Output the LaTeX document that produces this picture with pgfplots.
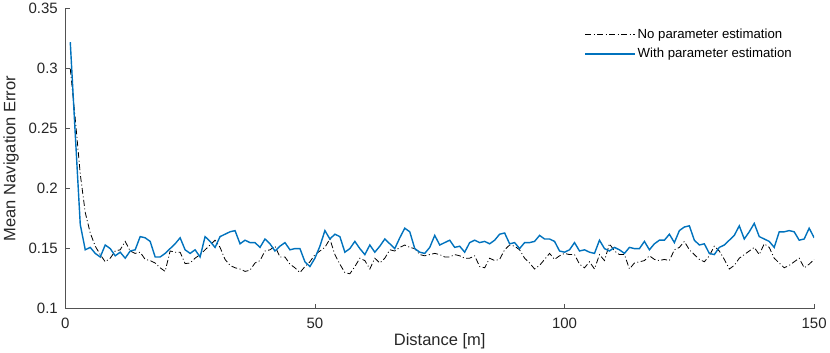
\documentclass[border=0pt]{standalone}
\usepackage{pgfplots}
\pgfplotsset{compat=1.18}
\usepackage{fontspec}
\setmainfont{Liberation Sans}
\definecolor{mblue}{rgb}{0,0.447,0.741}
\definecolor{axgray}{rgb}{0.15,0.15,0.15}

\begin{document}
\begin{tikzpicture}
\begin{axis}[
    scale only axis,
    width=749pt, height=300pt,
    xmin=0, xmax=150, ymin=0.1, ymax=0.35,
    xtick={0,50,100,150},
    ytick={0.1,0.15,0.2,0.25,0.3,0.35},
    yticklabels={0.1,0.15,0.2,0.25,0.3,0.35},
    axis x line*=bottom, axis y line*=left,
    axis line style={draw=axgray!80, line width=0.7pt},
    tick style={draw=axgray!80, line width=0.7pt},
    tick align=inside, major tick length=5pt,
    tick label style={font=\fontsize{15}{17}\selectfont, text=axgray},
    xticklabel style={yshift=-6pt},
    yticklabel style={xshift=-4pt},
    /pgf/number format/assume math mode=true,
    xlabel={Distance [m]}, ylabel={Mean Navigation Error},
    label style={font=\fontsize{16.5}{18}\selectfont, text=axgray},
    xlabel style={yshift=2pt}, ylabel style={yshift=3pt},
    legend style={draw=none, fill=none, at={(0.977,0.945)}, anchor=north east,
        font=\fontsize{13.2}{15}\selectfont, row sep=4pt,
        /tikz/every even column/.append style={column sep=2pt}},
    legend cell align=left,
    legend image code/.code={\draw (0pt,0pt) -- (50pt,0pt);},
]
\addplot[black, line width=0.8pt, dash pattern=on 6pt off 2.5pt on 1pt off 2.5pt] coordinates {
(1,0.300) (2,0.258) (3,0.212) (4,0.180) (5,0.163) (6,0.152) (7,0.145) (8,0.139) (9,0.142) (10,0.148)
(11,0.149) (12,0.156) (13,0.148) (14,0.146) (15,0.147) (16,0.141) (17,0.140) (18,0.138) (19,0.134) (20,0.131)
(21,0.148) (22,0.147) (23,0.147) (24,0.1375) (25,0.138) (26,0.142) (27,0.145) (28,0.149) (29,0.153) (30,0.157)
(31,0.151) (32,0.141) (33,0.136) (34,0.134) (35,0.133) (36,0.131) (37,0.132) (38,0.138) (39,0.140) (40,0.148)
(41,0.149) (42,0.152) (43,0.143) (44,0.143) (45,0.137) (46,0.134) (47,0.130) (48,0.135) (49,0.139) (50,0.145)
(51,0.148) (52,0.151) (53,0.158) (54,0.145) (55,0.137) (56,0.130) (57,0.129) (58,0.135) (59,0.142) (60,0.140)
(61,0.133) (62,0.142) (63,0.138) (64,0.142) (65,0.149) (66,0.148) (67,0.151) (68,0.153) (69,0.151) (70,0.150)
(71,0.145) (72,0.144) (73,0.145) (74,0.146) (75,0.145) (76,0.143) (77,0.143) (78,0.145) (79,0.144) (80,0.142)
(81,0.142) (82,0.144) (83,0.135) (84,0.134) (85,0.142) (86,0.140) (87,0.141) (88,0.149) (89,0.153) (90,0.152)
(91,0.149) (92,0.142) (93,0.138) (94,0.133) (95,0.136) (96,0.141) (97,0.146) (98,0.141) (99,0.144) (100,0.146)
(101,0.145) (102,0.145) (103,0.137) (104,0.134) (105,0.139) (106,0.133) (107,0.145) (108,0.140) (109,0.154) (110,0.148)
(111,0.145) (112,0.145) (113,0.133) (114,0.138) (115,0.139) (116,0.140) (117,0.144) (118,0.141) (119,0.140) (120,0.141)
(121,0.140) (122,0.149) (123,0.151) (124,0.156) (125,0.149) (126,0.145) (127,0.141) (128,0.139) (129,0.144) (130,0.152)
(131,0.148) (132,0.141) (133,0.133) (134,0.136) (135,0.142) (136,0.145) (137,0.148) (138,0.151) (139,0.145) (140,0.154)
(141,0.151) (142,0.142) (143,0.138) (144,0.134) (145,0.136) (146,0.139) (147,0.142) (148,0.134) (149,0.137) (150,0.141)
};
\addlegendentry{No parameter estimation}
\addplot[mblue, line width=1.4pt] coordinates {
(1,0.322) (2,0.245) (3,0.170) (4,0.149) (5,0.151) (6,0.146) (7,0.143) (8,0.153) (9,0.150) (10,0.144)
(11,0.147) (12,0.142) (13,0.148) (14,0.149) (15,0.160) (16,0.159) (17,0.156) (18,0.143) (19,0.143) (20,0.146)
(21,0.150) (22,0.154) (23,0.159) (24,0.149) (25,0.146) (26,0.149) (27,0.143) (28,0.160) (29,0.156) (30,0.151)
(31,0.160) (32,0.162) (33,0.164) (34,0.165) (35,0.154) (36,0.157) (37,0.155) (38,0.155) (39,0.151) (40,0.158)
(41,0.154) (42,0.148) (43,0.152) (44,0.155) (45,0.149) (46,0.150) (47,0.150) (48,0.139) (49,0.135) (50,0.142)
(51,0.152) (52,0.165) (53,0.158) (54,0.162) (55,0.160) (56,0.147) (57,0.150) (58,0.156) (59,0.150) (60,0.145)
(61,0.153) (62,0.147) (63,0.152) (64,0.158) (65,0.154) (66,0.150) (67,0.159) (68,0.167) (69,0.164) (70,0.150)
(71,0.147) (72,0.146) (73,0.151) (74,0.161) (75,0.153) (76,0.155) (77,0.157) (78,0.151) (79,0.152) (80,0.147)
(81,0.155) (82,0.157) (83,0.155) (84,0.156) (85,0.154) (86,0.157) (87,0.162) (88,0.163) (89,0.154) (90,0.155)
(91,0.150) (92,0.155) (93,0.155) (94,0.156) (95,0.161) (96,0.158) (97,0.158) (98,0.156) (99,0.148) (100,0.147)
(101,0.149) (102,0.155) (103,0.148) (104,0.149) (105,0.147) (106,0.146) (107,0.157) (108,0.150) (109,0.148) (110,0.151)
(111,0.149) (112,0.146) (113,0.151) (114,0.150) (115,0.150) (116,0.156) (117,0.149) (118,0.154) (119,0.157) (120,0.157)
(121,0.162) (122,0.155) (123,0.165) (124,0.168) (125,0.169) (126,0.157) (127,0.153) (128,0.154) (129,0.146) (130,0.145)
(131,0.151) (132,0.153) (133,0.157) (134,0.161) (135,0.169) (136,0.158) (137,0.164) (138,0.171) (139,0.160) (140,0.158)
(141,0.156) (142,0.151) (143,0.164) (144,0.164) (145,0.165) (146,0.164) (147,0.157) (148,0.158) (149,0.167) (150,0.159)
};
\addlegendentry{With parameter estimation}
\end{axis}
\end{tikzpicture}
\end{document}
